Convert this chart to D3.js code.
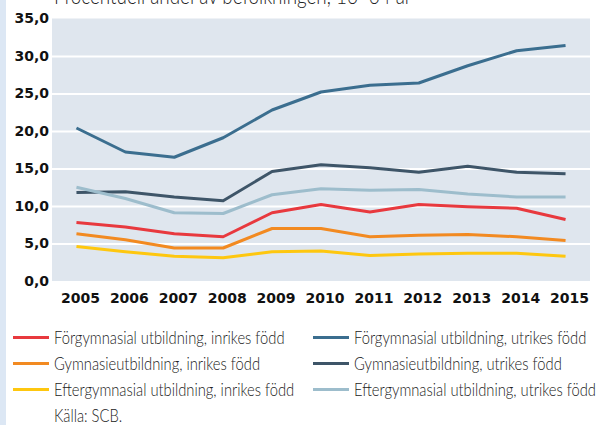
<!DOCTYPE html>
<html>
<head>
<meta charset="utf-8">
<script src="https://cdn.jsdelivr.net/npm/d3@7"></script>
<style>
  body { margin: 0; background: #fff; }
  #chart { position: relative; width: 606px; height: 425px; }
  .axis text { font-family: "DejaVu Sans", sans-serif; font-weight: bold; font-size: 14px; fill: #111; }
  .axis .domain, .axis line { display: none; }
  .grid line { stroke: #fff; stroke-width: 2; }
  .grid .domain { display: none; }
  .line { fill: none; stroke-width: 3; stroke-linejoin: round; }
  .legend text, .title, .source { font-family: Lato, sans-serif; font-weight: 300; fill: #222; }
</style>
</head>
<body>
<div id="chart"></div>
<script>
const years = [2005, 2006, 2007, 2008, 2009, 2010, 2011, 2012, 2013, 2014, 2015];
const yTicks = [0, 5, 10, 15, 20, 25, 30, 35];

const forgymInrikes = [7.8, 7.2, 6.3, 5.9, 9.1, 10.2, 9.2, 10.2, 9.9, 9.7, 8.2];
const gymInrikes = [6.3, 5.5, 4.4, 4.4, 7.0, 7.0, 5.9, 6.1, 6.2, 5.9, 5.4];
const eftergymInrikes = [4.6, 3.9, 3.3, 3.1, 3.9, 4.0, 3.4, 3.6, 3.7, 3.7, 3.3];
const forgymUtrikes = [20.4, 17.2, 16.5, 19.1, 22.8, 25.2, 26.1, 26.4, 28.7, 30.7, 31.4];
const gymUtrikes = [11.8, 11.9, 11.2, 10.7, 14.6, 15.5, 15.1, 14.5, 15.3, 14.5, 14.3];
const eftergymUtrikes = [12.5, 11.0, 9.1, 9.0, 11.5, 12.3, 12.1, 12.2, 11.6, 11.2, 11.2];

const seriesNames = [
  "Förgymnasial utbildning, inrikes född",
  "Förgymnasial utbildning, utrikes född",
  "Gymnasieutbildning, inrikes född",
  "Gymnasieutbildning, utrikes född",
  "Eftergymnasial utbildning, inrikes född",
  "Eftergymnasial utbildning, utrikes född"
];
const seriesValues = [forgymInrikes, forgymUtrikes, gymInrikes, gymUtrikes, eftergymInrikes, eftergymUtrikes];
const seriesColors = ["#e8393e", "#3b6e8f", "#f28a21", "#3e5568", "#fec70f", "#9dbdcc"];
// draw order: blue-ish lines behind warm ones
const drawOrder = [1, 3, 5, 0, 2, 4];

const titleText = "Procentuell andel av befolkningen, 16–64 år";
const sourceText = "Källa: SCB.";

const W = 606, H = 425;
const margin = {t: 18.5, l: 52, r: 16, b: 144};
const width = W - margin.l - margin.r;
const height = H - margin.t - margin.b;
const squeeze = 0.82; // the report font is a condensed one

const svg = d3.select("#chart").append("svg")
  .attr("width", W)
  .attr("height", H);

// page strip on the left
svg.append("rect")
  .attr("x", 0).attr("y", 0)
  .attr("width", 6).attr("height", H)
  .attr("fill", "#dce7f4");

svg.append("g")
  .attr("transform", `translate(54, 4) scale(${squeeze}, 1)`)
  .append("text")
  .attr("class", "title")
  .attr("font-size", 23)
  .attr("fill", "#444")
  .text(titleText);

const x = d3.scalePoint()
  .domain(years)
  .range([0, width])
  .padding(0.5);

const y = d3.scaleLinear()
  .domain([0, 35])
  .range([height, 0]);

const g = svg.append("g")
  .attr("transform", `translate(${margin.l}, ${margin.t})`);

g.append("rect")
  .attr("width", width)
  .attr("height", height)
  .attr("fill", "#dfe6ee");

g.append("g")
  .attr("class", "grid")
  .call(d3.axisLeft(y).tickValues(yTicks.filter(d => d > 0 && d < 35)).tickSize(-width).tickFormat(""));

g.append("g")
  .attr("class", "axis axis-y")
  .call(d3.axisLeft(y).tickValues(yTicks).tickSize(0).tickPadding(3)
    .tickFormat(d => d3.format(".1f")(d).replace(".", ",")));

const axisX = g.append("g")
  .attr("class", "axis axis-x")
  .attr("transform", `translate(0, ${height})`)
  .call(d3.axisBottom(x).tickSize(0).tickPadding(12));
axisX.selectAll("text").attr("dx", 3.5);

const line = d3.line()
  .x((d, i) => x(years[i]))
  .y(d => y(d));

g.selectAll(".line")
  .data(drawOrder)
  .join("path")
  .attr("class", "line")
  .attr("stroke", i => seriesColors[i])
  .attr("d", i => line(seriesValues[i]));

// legend, two columns
const legend = svg.append("g").attr("class", "legend");
const item = legend.selectAll("g")
  .data(seriesNames.map((name, i) => ({name, i})))
  .join("g")
  .attr("transform", d => `translate(${d.i % 2 ? 313 : 13}, ${337.5 + Math.floor(d.i / 2) * 26})`);

item.append("line")
  .attr("x1", 0).attr("x2", 36)
  .attr("stroke", d => seriesColors[d.i])
  .attr("stroke-width", 3);

item.append("g")
  .attr("transform", `translate(41, 0) scale(${squeeze}, 1)`)
  .append("text")
  .attr("dy", "0.36em")
  .attr("font-size", 18)
  .text(d => d.name);

svg.append("g")
  .attr("transform", `translate(54, 415.5) scale(${squeeze}, 1)`)
  .append("text")
  .attr("class", "source")
  .attr("dy", "0.36em")
  .attr("font-size", 18)
  .text(sourceText);
</script>
</body>
</html>
